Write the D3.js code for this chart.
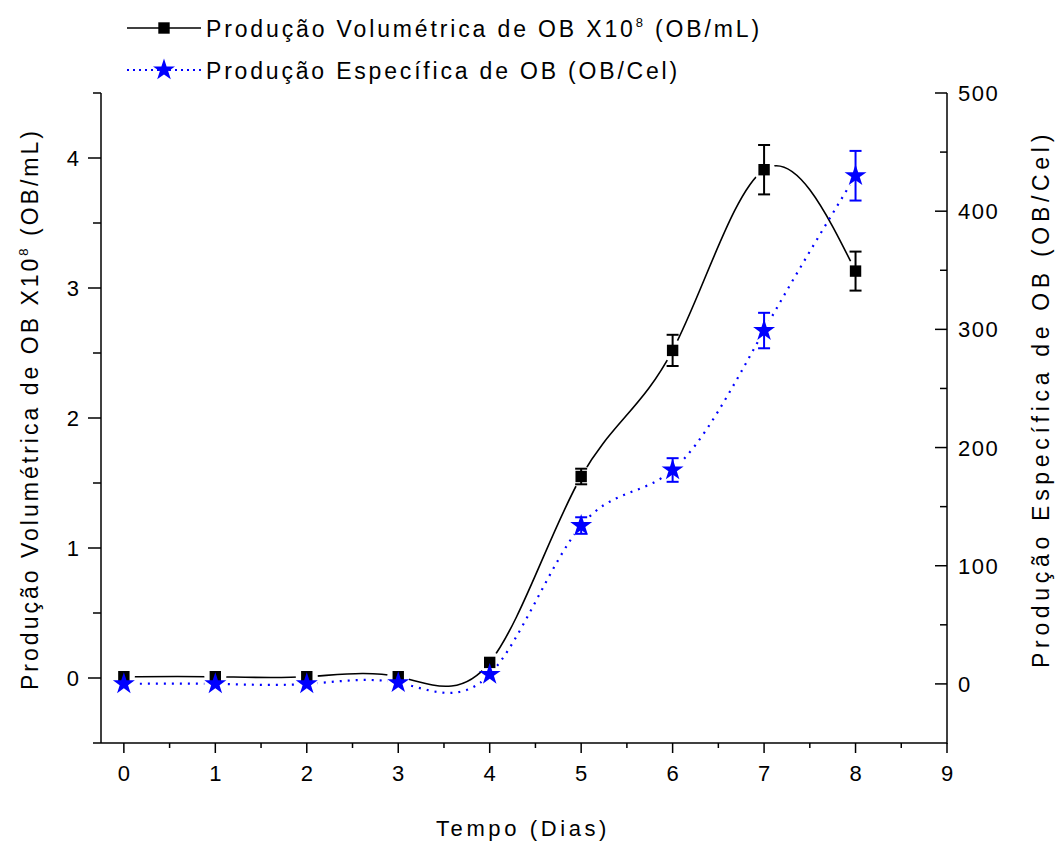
<!DOCTYPE html>
<html lang="pt">
<head>
    <meta charset="UTF-8">
    <title>Produção de OB</title>
    <style>
        body { margin: 0; background: #fff; }
        svg text { font-family: "Liberation Sans", Arial, sans-serif; fill: #000; }
    </style>
</head>
<body>
    <div id="chart"></div>

    <script src="https://d3js.org/d3.v7.min.js"></script>
    <script>
        // Data
        var dias = [0, 1, 2, 3, 4, 5, 6, 7, 8];
        var volumetrica = [0.01, 0.01, 0.01, 0.01, 0.12, 1.55, 2.52, 3.91, 3.13];
        var volumetricaErro = [0, 0, 0, 0, 0, 0.06, 0.12, 0.19, 0.15];
        var especifica = [0, 0, 0, 1, 8, 134, 181, 299, 430];
        var especificaErro = [0, 0, 0, 0, 0, 7, 10, 15, 21];

        var xTicks = [0, 1, 2, 3, 4, 5, 6, 7, 8, 9];
        var leftTicks = [0, 1, 2, 3, 4];
        var rightTicks = [0, 100, 200, 300, 400, 500];

        var width = 1059, height = 847;
        var plot = { left: 101, right: 947, top: 93, bottom: 743 };

        var svg = d3.select("#chart").append("svg")
            .attr("width", width)
            .attr("height", height);

        // Scales
        var x = d3.scaleLinear().domain([-0.25, 9]).range([plot.left, plot.right]);
        var yLeft = d3.scaleLinear().domain([-0.5, 4.5]).range([plot.bottom, plot.top]);
        var yRight = d3.scaleLinear().domain([-50, 500]).range([plot.bottom, plot.top]);

        // stretch a text to a target width using letter spacing (Origin's wide look)
        function fitWidth(sel, target) {
            var node = sel.node();
            var n = node.textContent.length;
            var w = node.getComputedTextLength();
            sel.style("letter-spacing", ((target - w) / n) + "px");
        }

        function minorBetween(ticks) {
            var m = [];
            for (var i = 0; i < ticks.length - 1; i++) m.push((ticks[i] + ticks[i + 1]) / 2);
            return m;
        }

        // x axis (bottom)
        var gx = svg.append("g").attr("transform", "translate(0," + plot.bottom + ")");
        gx.append("line").attr("x1", plot.left - 8).attr("x2", plot.right).attr("stroke", "#000").attr("stroke-width", 1.5);
        gx.selectAll(".maj").data(xTicks).enter().append("line")
            .attr("x1", function(d) { return x(d); }).attr("x2", function(d) { return x(d); })
            .attr("y1", 0).attr("y2", 10).attr("stroke", "#000").attr("stroke-width", 1.5);
        gx.selectAll(".min").data(minorBetween(xTicks)).enter().append("line")
            .attr("x1", function(d) { return x(d); }).attr("x2", function(d) { return x(d); })
            .attr("y1", 0).attr("y2", 5).attr("stroke", "#000").attr("stroke-width", 1.5);
        gx.selectAll("text").data(xTicks).enter().append("text")
            .attr("x", function(d) { return x(d); })
            .attr("y", 38)
            .attr("text-anchor", "middle")
            .style("font-size", "22px")
            .text(function(d) { return d; });

        // left axis
        var gl = svg.append("g").attr("transform", "translate(" + plot.left + ",0)");
        gl.append("line").attr("y1", plot.top).attr("y2", plot.bottom).attr("stroke", "#000").attr("stroke-width", 1.5);
        gl.selectAll(".maj").data(leftTicks).enter().append("line")
            .attr("y1", function(d) { return yLeft(d); }).attr("y2", function(d) { return yLeft(d); })
            .attr("x1", 0).attr("x2", -13).attr("stroke", "#000").attr("stroke-width", 1.5);
        gl.selectAll(".min").data(minorBetween(leftTicks).concat([4.5])).enter().append("line")
            .attr("y1", function(d) { return yLeft(d); }).attr("y2", function(d) { return yLeft(d); })
            .attr("x1", 0).attr("x2", -8).attr("stroke", "#000").attr("stroke-width", 1.5);
        gl.selectAll("text").data(leftTicks).enter().append("text")
            .attr("x", -22)
            .attr("y", function(d) { return yLeft(d) + 8; })
            .attr("text-anchor", "end")
            .style("font-size", "22px")
            .text(function(d) { return d; });

        // right axis (ticks point inward)
        var gr = svg.append("g").attr("transform", "translate(" + plot.right + ",0)");
        gr.append("line").attr("y1", plot.top).attr("y2", plot.bottom + 1).attr("stroke", "#000").attr("stroke-width", 1.5);
        gr.selectAll(".maj").data(rightTicks).enter().append("line")
            .attr("y1", function(d) { return yRight(d); }).attr("y2", function(d) { return yRight(d); })
            .attr("x1", 0).attr("x2", -12).attr("stroke", "#000").attr("stroke-width", 1.5);
        gr.selectAll(".min").data(minorBetween(rightTicks)).enter().append("line")
            .attr("y1", function(d) { return yRight(d); }).attr("y2", function(d) { return yRight(d); })
            .attr("x1", 0).attr("x2", -7).attr("stroke", "#000").attr("stroke-width", 1.5);
        gr.selectAll("text").data(rightTicks).enter().append("text")
            .attr("x", 11)
            .attr("y", function(d) { return yRight(d) + 8; })
            .attr("text-anchor", "start")
            .style("font-size", "22px")
            .style("letter-spacing", "1.5px")
            .text(function(d) { return d; });

        // Axis titles
        var xTitle = svg.append("text")
            .attr("x", 523).attr("y", 836)
            .attr("text-anchor", "middle")
            .style("font-size", "22px")
            .text("Tempo (Dias)");
        fitWidth(xTitle, 174);

        var leftTitle = svg.append("text")
            .attr("transform", "translate(38,409) rotate(-90)")
            .attr("text-anchor", "middle")
            .style("font-size", "23px");
        leftTitle.append("tspan").text("Produção Volumétrica de OB X10");
        leftTitle.append("tspan").attr("dy", -10).style("font-size", "13px").text("8");
        leftTitle.append("tspan").attr("dy", 10).text(" (OB/mL)");
        fitWidth(leftTitle, 562);

        var rightTitle = svg.append("text")
            .attr("transform", "translate(1049,399) rotate(-90)")
            .attr("text-anchor", "middle")
            .style("font-size", "23px")
            .text("Produção Específica de OB (OB/Cel)");
        fitWidth(rightTitle, 538);

        // Series
        var black = dias.map(function(d, i) { return { x: d, y: volumetrica[i], e: volumetricaErro[i] }; });
        var blue = dias.map(function(d, i) { return { x: d, y: especifica[i], e: especificaErro[i] }; });

        // masks leave a small gap in the curve around each marker, like the original
        var defs = svg.append("defs");
        function gapMask(id, pts, yScale) {
            var m = defs.append("mask").attr("id", id).attr("maskUnits", "userSpaceOnUse")
                .attr("x", 0).attr("y", 0).attr("width", width).attr("height", height);
            m.append("rect").attr("width", width).attr("height", height).attr("fill", "#fff");
            m.selectAll("circle").data(pts).enter().append("circle")
                .attr("cx", function(d) { return x(d.x); })
                .attr("cy", function(d) { return yScale(d.y); })
                .attr("r", 11).attr("fill", "#000");
        }
        gapMask("gapBlack", black, yLeft);
        gapMask("gapBlue", blue, yRight);

        var lineBlack = d3.line().curve(d3.curveNatural)
            .x(function(d) { return x(d.x); }).y(function(d) { return yLeft(d.y); });
        var lineBlue = d3.line().curve(d3.curveNatural)
            .x(function(d) { return x(d.x); }).y(function(d) { return yRight(d.y); });

        svg.append("path").datum(black)
            .attr("d", lineBlack).attr("fill", "none").attr("stroke", "#000").attr("stroke-width", 1.6)
            .attr("mask", "url(#gapBlack)");
        svg.append("path").datum(blue)
            .attr("d", lineBlue).attr("fill", "none").attr("stroke", "#0000ff").attr("stroke-width", 2.2)
            .attr("stroke-dasharray", "2,6")
            .attr("mask", "url(#gapBlue)");

        function errorBars(pts, yScale, color) {
            var g = svg.append("g").attr("stroke", color).attr("stroke-width", 2);
            pts.filter(function(d) { return d.e > 0; }).forEach(function(d) {
                var cx = x(d.x), y1 = yScale(d.y - d.e), y2 = yScale(d.y + d.e);
                g.append("line").attr("x1", cx).attr("x2", cx).attr("y1", y1).attr("y2", y2);
                g.append("line").attr("x1", cx - 6).attr("x2", cx + 6).attr("y1", y1).attr("y2", y1);
                g.append("line").attr("x1", cx - 6).attr("x2", cx + 6).attr("y1", y2).attr("y2", y2);
            });
        }
        errorBars(black, yLeft, "#000");
        errorBars(blue, yRight, "#0000ff");

        var square = d3.symbol().type(d3.symbolSquare).size(130);
        var star = d3.symbol().type(d3.symbolStar).size(150);

        svg.selectAll(".sq").data(black).enter().append("path")
            .attr("d", square)
            .attr("transform", function(d) { return "translate(" + x(d.x) + "," + yLeft(d.y) + ")"; })
            .attr("fill", "#000");
        svg.selectAll(".st").data(blue).enter().append("path")
            .attr("d", star)
            .attr("transform", function(d) { return "translate(" + x(d.x) + "," + yRight(d.y) + ")"; })
            .attr("fill", "#0000ff");

        // Legend
        var legend = svg.append("g");
        legend.append("line").attr("x1", 127).attr("x2", 201).attr("y1", 28).attr("y2", 28)
            .attr("stroke", "#000").attr("stroke-width", 1.6);
        legend.append("path").attr("d", square).attr("transform", "translate(164,28)").attr("fill", "#000");
        legend.append("line").attr("x1", 127).attr("x2", 201).attr("y1", 70).attr("y2", 70)
            .attr("stroke", "#0000ff").attr("stroke-width", 2.2).attr("stroke-dasharray", "2,4");
        legend.append("path").attr("d", star).attr("transform", "translate(164,70)").attr("fill", "#0000ff");

        var leg1 = legend.append("text").attr("x", 206).attr("y", 37).style("font-size", "23px");
        leg1.append("tspan").text("Produção Volumétrica de OB X10");
        leg1.append("tspan").attr("dy", -10).style("font-size", "13px").text("8");
        leg1.append("tspan").attr("dy", 10).text(" (OB/mL)");
        fitWidth(leg1, 556);
        var leg2 = legend.append("text").attr("x", 206).attr("y", 79).style("font-size", "23px")
            .text("Produção Específica de OB (OB/Cel)");
        fitWidth(leg2, 474);
    </script>
</body>
</html>
